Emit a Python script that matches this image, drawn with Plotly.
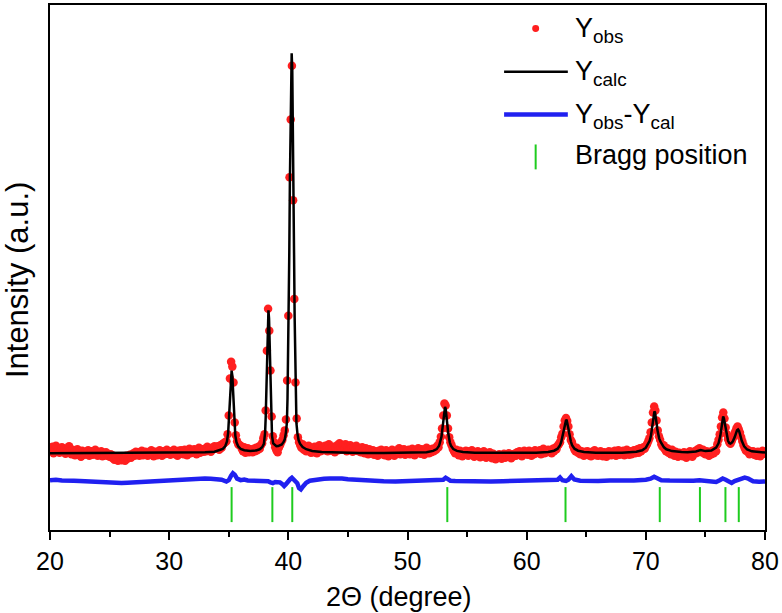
import numpy as np
import plotly.graph_objects as go

# ---------------- data ----------------
two_theta_start = 20.0
two_theta_step = 0.1

# observed intensity, one value per 0.1 deg from 20.0 to 80.0
obs_y = [
    815, 790, 835, 770, 805, 845, 785, 820, 775, 800,   # 20
    830, 795, 815, 765, 800, 785, 840, 795, 760, 805,   # 21
    775, 750, 790, 810, 760, 785, 735, 795, 770, 755,   # 22
    785, 760, 800, 745, 775, 790, 755, 770, 805, 760,   # 23
    745, 780, 760, 790, 740, 770, 750, 780, 745, 760,   # 24
    735, 760, 725, 745, 705, 740, 715, 695, 735, 710,   # 25
    700, 735, 720, 695, 745, 715, 735, 755, 725, 745,   # 26
    770, 745, 785, 755, 780, 745, 765, 795, 750, 775,   # 27
    785, 760, 745, 780, 770, 800, 755, 740, 785, 765,   # 28
    750, 780, 800, 770, 745, 790, 760, 775, 805, 765,   # 29
    785, 755, 790, 770, 805, 760, 780, 745, 795, 770,   # 30
    800, 775, 760, 805, 785, 750, 795, 815, 770, 790,   # 31
    780, 810, 790, 760, 800, 825, 775, 795, 810, 785,   # 32
    815, 790, 835, 800, 815, 785, 825, 810, 840, 815,   # 33
    815, 840, 805, 850, 825, 865, 870, 880, 890, 960,   # 34
    1150, 1520, 1690, 1640, 1480, 1080, 950, 890, 860, 850,   # 35
    845, 815, 790, 830, 775, 805, 820, 780, 810, 795,   # 36
    780, 815, 790, 825, 800, 835, 815, 850, 870, 920,   # 37
    960, 1200, 1800, 2220, 2000, 1600, 1140, 940, 880, 830,   # 38
    800, 780, 825, 850, 880, 905, 950, 1000, 1110, 1500,   # 39
    2150, 3540, 4120, 4660, 3310, 2320, 1480, 1120, 930, 880,   # 40
    850, 825, 860, 805, 835, 790, 820, 845, 800, 775,   # 41
    810, 780, 835, 795, 770, 820, 850, 790, 805, 830,   # 42
    800, 845, 815, 790, 860, 820, 795, 835, 805, 780,   # 43
    825, 850, 800, 870, 830, 805, 845, 815, 860, 790,   # 44
    835, 805, 850, 820, 785, 830, 800, 845, 810, 790,   # 45
    815, 780, 830, 805, 770, 820, 795, 760, 810, 785,   # 46
    770, 800, 755, 790, 775, 745, 795, 770, 805, 760,   # 47
    785, 750, 800, 775, 740, 790, 760, 805, 770, 745,   # 48
    795, 765, 780, 820, 760, 790, 775, 810, 755, 790,   # 49
    770, 805, 760, 795, 815, 775, 750, 800, 780, 820,   # 50
    790, 765, 810, 780, 755, 800, 825, 785, 770, 805,   # 51
    780, 815, 790, 820, 805, 845, 830, 880, 935, 1020,   # 52
    1150, 1270, 1250, 1150, 1020, 930, 880, 850, 815, 790,   # 53
    770, 805, 785, 750, 795, 770, 740, 785, 760, 795,   # 54
    775, 745, 790, 760, 800, 770, 735, 780, 755, 790,   # 55
    760, 730, 775, 745, 790, 755, 725, 770, 740, 780,   # 56
    745, 720, 765, 735, 710, 750, 725, 760, 730, 715,   # 57
    740, 765, 725, 750, 735, 770, 745, 720, 760, 740,   # 58
    765, 745, 780, 755, 790, 760, 740, 775, 795, 760,   # 59
    780, 755, 795, 770, 745, 785, 760, 800, 770, 790,   # 60
    775, 800, 760, 790, 815, 770, 795, 780, 805, 785,   # 61
    800, 770, 815, 790, 825, 810, 845, 860, 880, 930,   # 62
    965, 1040, 1100, 1125, 1095, 1040, 960, 905, 880, 840,   # 63
    810, 790, 825, 775, 800, 760, 790, 770, 745, 785,   # 64
    760, 790, 750, 775, 740, 785, 760, 800, 750, 770,   # 65
    745, 775, 790, 760, 740, 780, 765, 735, 770, 790,   # 66
    775, 750, 785, 760, 795, 745, 770, 800, 755, 780,   # 67
    765, 795, 750, 780, 805, 770, 755, 790, 760, 785,   # 68
    800, 770, 795, 810, 775, 820, 790, 805, 830, 815,   # 69
    840, 860, 890, 920, 980, 1080, 1180, 1240, 1200, 1100,   # 70
    1000, 940, 905, 860, 835, 850, 810, 790, 820, 775,   # 71
    790, 760, 805, 775, 745, 785, 760, 735, 775, 750,   # 72
    765, 740, 780, 750, 725, 770, 745, 790, 755, 735,   # 73
    760, 790, 770, 805, 780, 820, 795, 780, 805, 770,   # 74
    760, 790, 775, 745, 785, 760, 795, 770, 805, 790,   # 75
    860, 905, 960, 1040, 1130, 1180, 1120, 1030, 960, 910,   # 76
    880, 865, 890, 920, 955, 985, 1020, 1040, 1010, 975,   # 77
    930, 890, 850, 820, 795, 810, 780, 760, 790, 765,   # 78
    790, 755, 775, 745, 785, 760, 740, 775, 795, 765,   # 79
    780,                                                # 80
]

# calculated profile (knots)
calc_x = [20.0, 25.0, 30.0, 32.0, 33.0, 33.8, 34.3, 34.5, 34.7, 34.85, 34.95, 35.0, 35.05, 35.1, 35.15,
          35.2, 35.24, 35.3, 35.35, 35.4, 35.45, 35.5, 35.55, 35.65, 35.8, 36.0, 36.3, 36.8, 37.3, 37.6,
          37.8, 37.95, 38.05, 38.1, 38.15, 38.2, 38.25, 38.3, 38.33, 38.38, 38.43, 38.48, 38.53, 38.58, 38.63,
          38.73, 38.85, 39.0, 39.15, 39.3, 39.45, 39.6, 39.7, 39.8, 39.88, 39.93, 39.98, 40.03, 40.08, 40.13,
          40.18, 40.23, 40.28, 40.33, 40.38, 40.43, 40.48, 40.53, 40.58, 40.63, 40.68, 40.76, 40.86, 40.98, 41.2,
          41.5, 42.0, 42.8, 44.0, 46.0, 48.0, 50.6, 51.6, 52.15, 52.45, 52.65, 52.75, 52.85, 52.9, 52.95,
          53.0, 53.05, 53.1, 53.15, 53.2, 53.25, 53.3, 53.35, 53.4, 53.45, 53.55, 53.65, 53.85, 54.15, 54.65,
          55.65, 58.0, 60.8, 61.8, 62.3, 62.6, 62.8, 62.91, 63.01, 63.06, 63.11, 63.16, 63.21, 63.26, 63.31,
          63.36, 63.41, 63.46, 63.51, 63.56, 63.61, 63.71, 63.81, 64.01, 64.31, 64.81, 65.8, 68.0, 69.2, 69.7,
          70.0, 70.2, 70.32, 70.42, 70.47, 70.52, 70.57, 70.62, 70.67, 70.72, 70.77, 70.82, 70.87, 70.92, 70.97,
          71.02, 71.12, 71.22, 71.32, 71.52, 71.72, 72.2, 73.0, 73.5, 74.2, 74.6, 75.0, 75.5, 75.9, 76.1,
          76.25, 76.38, 76.45, 76.49, 76.55, 76.62, 76.75, 76.9, 77.0, 77.1, 77.2, 77.3, 77.45, 77.55, 77.65,
          77.74, 77.82, 77.9, 78.05, 78.25, 78.5, 78.9, 79.4, 80.0]
calc_y = [771, 772, 774, 777, 780, 785, 803, 814, 839, 890, 975, 1080, 1217, 1362, 1492,
          1578, 1600, 1550, 1443, 1304, 1159, 1031, 950, 880, 838, 815, 801, 794, 799, 810,
          830, 865, 976, 1128, 1381, 1691, 1990, 2183, 2205, 2125, 1880, 1568, 1275, 1055, 945,
          870, 852, 841, 842, 847, 859, 884, 910, 980, 1080, 1318, 1660, 2135, 2780, 3490,
          4148, 4615, 4785, 4615, 4148, 3490, 2780, 2133, 1655, 1313, 1072, 972, 903, 866, 833,
          811, 793, 782, 777, 774, 773, 775, 781, 794, 812, 845, 880, 935, 985, 1050,
          1120, 1180, 1220, 1235, 1220, 1180, 1120, 1050, 985, 935, 880, 845, 812, 794, 782,
          775, 773, 775, 783, 796, 816, 852, 888, 942, 978, 1015, 1050, 1080, 1100, 1107,
          1100, 1080, 1050, 1015, 978, 942, 888, 852, 816, 796, 783, 775, 776, 786, 800,
          826, 865, 895, 940, 980, 1032, 1090, 1140, 1175, 1190, 1180, 1150, 1105, 1055, 1005,
          965, 920, 890, 865, 830, 810, 792, 782, 780, 788, 802, 792, 798, 828, 870,
          945, 1060, 1120, 1140, 1122, 1070, 965, 895, 873, 868, 875, 890, 930, 970, 1000,
          1008, 995, 962, 895, 840, 808, 790, 782, 778]

# difference curve Yobs - Ycal (shifted)
diff_x = [20.0, 20.5, 21.0, 21.5, 22.0, 22.5, 23.0, 23.5, 24.0, 24.5, 25.0, 25.5, 26.0, 26.5, 27.0,
          27.5, 28.0, 28.5, 29.0, 29.5, 30.0, 30.5, 31.0, 31.5, 32.0, 32.5, 33.0, 33.5, 34.0, 34.4,
          34.8, 35.0, 35.2, 35.35, 35.5, 35.7, 36.0, 36.3, 36.6, 37.0, 37.4, 37.8, 38.1, 38.3, 38.5,
          38.7, 38.9, 39.1, 39.3, 39.5, 39.65, 39.8, 40.0, 40.15, 40.3, 40.45, 40.6, 40.75, 40.9, 41.05,
          41.25, 41.5, 41.8, 42.2, 42.6, 43.0, 43.5, 44.0, 44.5, 45.0, 45.5, 46.0, 47.0, 48.0, 49.0,
          50.0, 51.0, 52.0, 52.8, 53.0, 53.2, 53.4, 53.6, 54.0, 55.0, 56.0, 57.0, 58.0, 59.0, 60.0,
          61.0, 62.0, 62.6, 62.8, 63.0, 63.3, 63.5, 63.75, 64.0, 64.5, 65.0, 66.0, 67.0, 68.0, 69.0,
          70.0, 70.4, 70.7, 71.0, 71.3, 72.0, 73.0, 74.0, 74.5, 75.0, 75.5, 75.9, 76.2, 76.45, 76.7,
          77.0, 77.2, 77.45, 77.7, 78.0, 78.3, 78.6, 79.0, 79.5, 80.0]
diff_y = [500, 505, 498, 502, 495, 492, 488, 485, 478, 474, 472, 470, 471, 474, 478,
          482, 485, 488, 492, 496, 500, 504, 506, 505, 508, 512, 516, 514, 508, 505,
          486, 500, 545, 570, 555, 515, 500, 506, 497, 496, 492, 488, 483, 490, 478,
          470, 482, 485, 478, 460, 442, 460, 495, 510, 525, 505, 490, 470, 420, 407,
          440, 475, 495, 505, 512, 514, 518, 520, 516, 510, 505, 500, 495, 490, 488,
          492, 490, 493, 495, 505, 525, 510, 495, 492, 488, 492, 486, 490, 494, 490,
          496, 495, 505, 527, 500, 493, 505, 540, 507, 495, 498, 493, 497, 494, 498,
          505, 515, 535, 515, 500, 497, 493, 495, 500, 494, 490, 482, 500, 517, 505,
          478, 473, 492, 505, 518, 525, 515, 490, 485, 487]

# Bragg reflection positions (2theta)
bragg_pos = [35.24, 38.66, 40.33, 53.34, 63.26, 71.17, 74.54, 76.68, 77.80]

x_ticks = [20, 30, 40, 50, 60, 70, 80]

# ---------------- figure ----------------
obs_x = np.round(two_theta_start + two_theta_step * np.arange(len(obs_y)), 2)

FONT = "Liberation Sans, Arial, sans-serif"
RED = "#ff1f1f"
BLUE = "#2020f0"
GREEN = "#1fcc1f"

fig = go.Figure()
fig.add_trace(go.Scatter(x=obs_x, y=obs_y, mode="markers",
                         marker=dict(color=RED, size=8.5, line=dict(width=0)),
                         name="Yobs", showlegend=False))
fig.add_trace(go.Scatter(x=calc_x, y=calc_y, mode="lines",
                         line=dict(color="black", width=2.5),
                         name="Ycalc", showlegend=False))
fig.add_trace(go.Scatter(x=diff_x, y=diff_y, mode="lines",
                         line=dict(color=BLUE, width=4.5),
                         name="Yobs-Ycal", showlegend=False))
fig.add_trace(go.Scatter(x=bragg_pos, y=[255] * len(bragg_pos), mode="markers",
                         marker=dict(symbol="line-ns", size=25,
                                     line=dict(color=GREEN, width=2)),
                         name="Bragg position", showlegend=False))

# plot-area geometry (px) used only for placing the hand-drawn legend
L, R, T, B = 50, 768, 3, 530
def px(xp):
    return (xp - L) / (R - L)
def py(yp):
    return (B - yp) / (B - T)

shapes = [
    dict(type="circle", xref="paper", yref="paper",
         x0=px(534.2), x1=px(541.2), y0=py(30.2), y1=py(23.2),
         fillcolor=RED, line=dict(width=0)),
    dict(type="line", xref="paper", yref="paper",
         x0=px(506), x1=px(570), y0=py(70), y1=py(70),
         line=dict(color="black", width=2.5)),
    dict(type="line", xref="paper", yref="paper",
         x0=px(506), x1=px(570), y0=py(113), y1=py(113),
         line=dict(color=BLUE, width=4.5)),
    dict(type="line", xref="paper", yref="paper",
         x0=px(537.7), x1=px(537.7), y0=py(143), y1=py(168),
         line=dict(color=GREEN, width=2)),
]

legend_text = [
    ("Y<sub>obs</sub>", 28),
    ("Y<sub>calc</sub>", 71),
    ("Y<sub>obs</sub>-Y<sub>cal</sub>", 114),
    ("Bragg position", 154),
]
annotations = []
for txt, yc in legend_text:
    annotations.append(dict(text=txt, xref="paper", yref="paper",
                            x=px(575), y=py(yc), xanchor="left", yanchor="middle",
                            showarrow=False, font=dict(family=FONT, size=27, color="black")))

annotations.append(dict(text="Intensity (a.u.)", xref="paper", yref="paper",
                        x=px(18), y=py(279), xanchor="center", yanchor="middle",
                        textangle=-90, showarrow=False,
                        font=dict(family=FONT, size=31, color="black")))
annotations.append(dict(text="2\u0398 (degree)", xref="paper", yref="paper",
                        x=px(400), y=py(597), xanchor="center", yanchor="middle",
                        showarrow=False, font=dict(family=FONT, size=27, color="black")))

fig.update_layout(
    width=782, height=613,
    margin=dict(l=L, r=782 - R, t=T, b=613 - B),
    paper_bgcolor="white", plot_bgcolor="white",
    font=dict(family=FONT, color="black"),
    showlegend=False,
    shapes=shapes,
    annotations=annotations,
    xaxis=dict(range=[20, 80], tickvals=x_ticks, ticktext=[str(v) for v in x_ticks],
               ticks="outside", ticklen=8, tickwidth=2, tickcolor="black",
               minor=dict(dtick=5, tick0=20, ticks="outside", ticklen=5, tickwidth=2,
                          tickcolor="black", showgrid=False),
               showline=True, linewidth=2, linecolor="black", mirror=True,
               showgrid=False, zeroline=False,
               tickfont=dict(family=FONT, size=25, color="black")),
    yaxis=dict(range=[0, 5270], showticklabels=False, ticks="",
               showline=True, linewidth=2, linecolor="black", mirror=True,
               showgrid=False, zeroline=False),
)

fig.write_html("out.html", config={"displayModeBar": False},
               post_script="document.body.style.margin='0';document.body.style.overflow='hidden';")
